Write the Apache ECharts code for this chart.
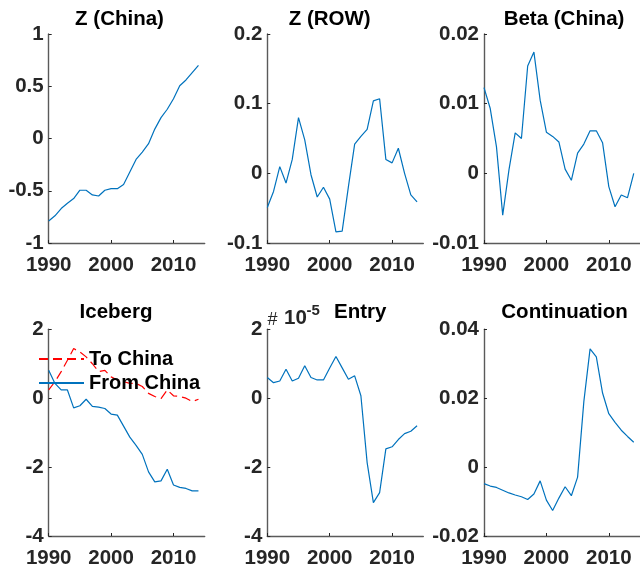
<!DOCTYPE html>
<html>
<head>
<meta charset="utf-8">
<script src="https://cdn.jsdelivr.net/npm/echarts@6/dist/echarts.min.js"></script>
<style>
  html, body { margin: 0; padding: 0; background: #fff; }
  #chart { width: 640px; height: 569px; }
</style>
</head>
<body>
<div id="chart"></div>
<script>
// Yearly observations, 1990-2014
const years = [1990, 1991, 1992, 1993, 1994, 1995, 1996, 1997, 1998, 1999,
               2000, 2001, 2002, 2003, 2004, 2005, 2006, 2007, 2008, 2009,
               2010, 2011, 2012, 2013, 2014];

const zChina = [-0.79, -0.74, -0.67, -0.62, -0.575, -0.495, -0.495, -0.54, -0.55, -0.495,
                -0.48, -0.48, -0.44, -0.32, -0.20, -0.13, -0.05, 0.09, 0.20, 0.28,
                0.38, 0.505, 0.56, 0.63, 0.70];

const zRow = [-0.049, -0.026, 0.0096, -0.014, 0.020, 0.080, 0.048, -0.002, -0.034, -0.020,
              -0.037, -0.084, -0.083, -0.019, 0.042, 0.053, 0.063, 0.104, 0.107, 0.020,
              0.015, 0.036, 0.000, -0.031, -0.041];

const betaChina = [0.0123, 0.0093, 0.0038, -0.0060, 0.0005, 0.0058, 0.0050, 0.0154, 0.0174, 0.0105,
                   0.0059, 0.0053, 0.0045, 0.0006, -0.0010, 0.0029, 0.0042, 0.0061, 0.0061, 0.0044,
                   -0.0019, -0.0048, -0.0031, -0.0035, 0.0000];

const icebergTo = [0.24, 0.48, 0.77, 1.10, 1.44, 1.34, 1.20, 1.00, 0.77, 0.81,
                   0.62, 0.53, 0.48, 0.43, 0.43, 0.34, 0.14, 0.05, -0.01, 0.24,
                   0.07, 0.05, 0.00, -0.10, -0.03];

const icebergFrom = [0.81, 0.43, 0.24, 0.24, -0.28, -0.22, -0.03, -0.24, -0.26, -0.30,
                     -0.46, -0.49, -0.81, -1.13, -1.37, -1.63, -2.14, -2.43, -2.40, -2.06,
                     -2.52, -2.59, -2.62, -2.69, -2.69];

// Entry values are given in units of 1e-5
const entry = [0.60, 0.45, 0.50, 0.84, 0.50, 0.58, 0.94, 0.60, 0.53, 0.53,
               0.875, 1.21, 0.88, 0.55, 0.65, 0.07, -1.87, -3.03, -2.74, -1.47,
               -1.41, -1.20, -1.03, -0.96, -0.80];

const continuation = [-0.0048, -0.0055, -0.0059, -0.0067, -0.0075, -0.0081, -0.0086, -0.0094, -0.0078, -0.0040,
                      -0.0096, -0.0126, -0.0090, -0.0057, -0.0083, -0.0029, 0.0190, 0.0343, 0.0320, 0.0215,
                      0.0155, 0.0130, 0.0107, 0.0089, 0.0072];

const xTicks = [1990, 2000, 2010];

const BLUE = '#0072BD';
const RED = '#FF0000';
const AXIS = '#5a5a5a';
const TEXT = '#262626';
const FONT = '"Liberation Sans", Arial, Helvetica, sans-serif';

const pairs = vals => years.map((y, i) => [y, vals[i]]);

// panel layout: 2 rows x 3 columns
const colLeft = [48.7, 267.3, 484];
const rowTop = [34, 329.3];
const panelW = 156;
const panelH = 209;

const panels = [
  { row: 0, col: 0, min: -1, max: 1, interval: 0.5 },
  { row: 0, col: 1, min: -0.1, max: 0.2, interval: 0.1 },
  { row: 0, col: 2, min: -0.01, max: 0.02, interval: 0.01 },
  { row: 1, col: 0, min: -4, max: 2, interval: 2 },
  { row: 1, col: 1, min: -4, max: 2, interval: 2 },
  { row: 1, col: 2, min: -0.02, max: 0.04, interval: 0.02 }
];

const labelStyle = { color: TEXT, fontFamily: FONT, fontWeight: 'bold', fontSize: 20.5 };

const grid = panels.map(p => ({
  left: colLeft[p.col], top: rowTop[p.row], width: panelW, height: panelH
}));

const xAxis = panels.map((p, i) => ({
  gridIndex: i, type: 'value', min: 1990, max: 2015,
  axisLine: { show: true, onZero: false, lineStyle: { color: AXIS, width: 1.4 } },
  axisTick: { show: true, inside: true, length: 3, customValues: xTicks, lineStyle: { color: TEXT, width: 1 } },
  axisLabel: Object.assign({ customValues: xTicks, margin: 12, formatter: v => String(v) }, labelStyle),
  splitLine: { show: false }
}));

const yAxis = panels.map((p, i) => ({
  gridIndex: i, type: 'value', min: p.min, max: p.max, interval: p.interval,
  axisLine: { show: true, onZero: false, lineStyle: { color: AXIS, width: 1.4 } },
  axisTick: { show: true, inside: true, length: 3, lineStyle: { color: TEXT, width: 1 } },
  axisLabel: Object.assign({ margin: 5 }, labelStyle),
  splitLine: { show: false }
}));

const lineSeries = (name, idx, vals, color, dashed) => ({
  name, type: 'line', xAxisIndex: idx, yAxisIndex: idx,
  data: pairs(vals), symbol: 'none', showSymbol: false, silent: true,
  lineStyle: { color, width: 1.2, type: dashed ? [9, 5] : 'solid' },
  itemStyle: { color }
});

const series = [
  lineSeries('Z (China)', 0, zChina, BLUE, false),
  lineSeries('Z (ROW)', 1, zRow, BLUE, false),
  lineSeries('Beta (China)', 2, betaChina, BLUE, false),
  lineSeries('To China', 3, icebergTo, RED, true),
  lineSeries('From China', 3, icebergFrom, BLUE, false),
  lineSeries('Entry', 4, entry, BLUE, false),
  lineSeries('Continuation', 5, continuation, BLUE, false)
];

const titleText = (text, x, y) => ({
  type: 'text', x, y,
  style: { text, fill: '#000', font: 'bold 20.5px ' + FONT, textAlign: 'center', textVerticalAlign: 'middle' }
});

const graphic = [
  titleText('Z (China)', 119.5, 19.5),
  titleText('Z (ROW)', 329.7, 19.5),
  titleText('Beta (China)', 564, 19.5),
  titleText('Iceberg', 116, 312),
  titleText('Continuation', 564.5, 312),
  // Entry title with its scale factor
  { type: 'text', x: 267.5, y: 320,
    style: { text: '#', fill: TEXT, font: '18px ' + FONT, textAlign: 'left', textVerticalAlign: 'middle' } },
  { type: 'text', x: 284, y: 318,
    style: { text: '10', fill: TEXT, font: 'bold 20.5px ' + FONT, textAlign: 'left', textVerticalAlign: 'middle' } },
  { type: 'text', x: 306.5, y: 311,
    style: { text: '-5', fill: TEXT, font: 'bold 15px ' + FONT, textAlign: 'left', textVerticalAlign: 'middle' } },
  { type: 'text', x: 334, y: 312.5,
    style: { text: 'Entry', fill: '#000', font: 'bold 20.5px ' + FONT, textAlign: 'left', textVerticalAlign: 'middle' } }
];

const chart = echarts.init(document.getElementById('chart'), null, { renderer: 'canvas' });
chart.setOption({
  backgroundColor: '#fff',
  animation: false,
  grid, xAxis, yAxis, series, graphic,
  legend: {
    data: ['To China', 'From China'],
    orient: 'vertical', left: 38, top: 349, padding: 0,
    itemWidth: 45, itemHeight: 14, itemGap: 4,
    selectedMode: false,
    itemStyle: { opacity: 0 },
    textStyle: { color: '#000', fontFamily: FONT, fontWeight: 'bold', fontSize: 20 }
  }
});
</script>
</body>
</html>
